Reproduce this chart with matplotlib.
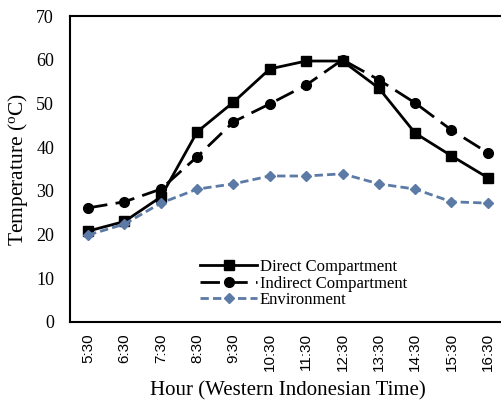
import matplotlib
matplotlib.use("Agg")
import matplotlib.pyplot as plt

hours = ["5:30", "6:30", "7:30", "8:30", "9:30", "10:30", "11:30",
         "12:30", "13:30", "14:30", "15:30", "16:30"]
direct = [20.8, 23.0, 28.6, 43.5, 50.3, 57.9, 59.7, 59.7, 53.5, 43.2, 38.0, 33.0]
indirect = [26.1, 27.5, 30.4, 37.8, 45.8, 49.9, 54.2, 60.0, 55.4, 50.1, 43.9, 38.7]
environment = [19.9, 22.4, 27.2, 30.4, 31.6, 33.4, 33.4, 33.9, 31.6, 30.4, 27.5, 27.2]

serif = "Liberation Serif"
sans = "Liberation Sans"
env_color = "#5b7aa6"

fig = plt.figure(figsize=(5.02, 4.03), dpi=100)
# plot frame runs slightly past the right edge of the image, like the source
ax = fig.add_axes([70 / 502, 81 / 403, 436 / 502, 306 / 403])

x = range(len(hours))
ax.plot(x, direct, color="black", lw=2, marker="s", ms=7,
        label="Direct Compartment")
ax.plot(x, indirect, color="black", lw=2, marker="o", ms=7,
        dashes=(7, 3), label="Indirect Compartment")
ax.plot(x, environment, color=env_color, lw=2, marker="D", ms=5,
        dashes=(3, 1.5), label="Environment")

ax.set_xlim(-0.5, len(hours) - 0.5)
ax.set_ylim(0, 70)
ax.set_yticks(range(0, 71, 10))
ax.set_xticks(list(x))
ax.set_xticklabels(hours, rotation=90, fontfamily=sans, fontsize=11)
for lab in ax.get_yticklabels():
    lab.set_fontfamily(serif)
    lab.set_fontsize(13)
ax.tick_params(axis="x", length=0, pad=8)
ax.tick_params(axis="y", length=0, pad=11.5)

for side in ["top", "bottom", "left"]:
    ax.spines[side].set_linewidth(1.5)
ax.spines["right"].set_visible(False)

ax.set_xlabel("Hour (Western Indonesian Time)", fontfamily=serif, fontsize=15, labelpad=7)
ax.set_ylabel("Temperature ($\\mathregular{^o}$C)", fontfamily=serif, fontsize=15.5, labelpad=4)

ax.legend(loc="lower left", bbox_to_anchor=(0.28, 0.019), frameon=False,
          prop={"family": serif, "size": 12}, handlelength=3.4,
          handletextpad=0.15, labelspacing=0.02, borderpad=0)

fig.savefig("out.png", dpi=100)
